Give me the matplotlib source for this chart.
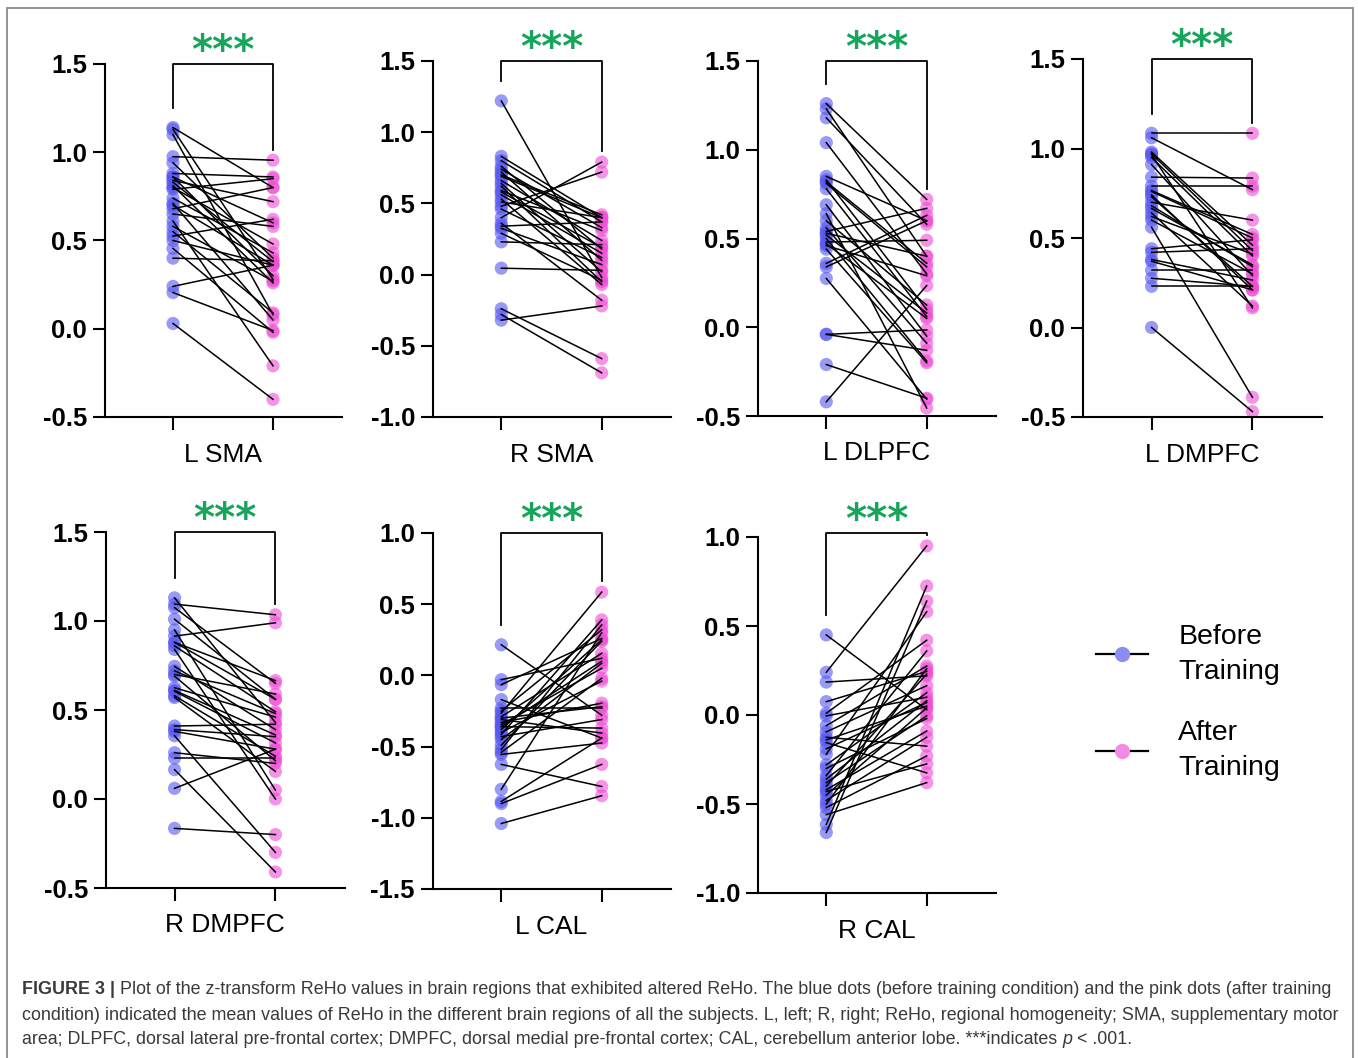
import matplotlib
matplotlib.use("Agg")
import matplotlib.pyplot as plt
from matplotlib.lines import Line2D
from matplotlib.patches import Rectangle
from matplotlib.ticker import FormatStrFormatter, MultipleLocator

plt.rcParams['font.family'] = ['Liberation Sans', 'DejaVu Sans']

# z-transformed ReHo values, one pair per subject (before, after training)
before_l_sma = [1.14, 1.13, 1.10, 0.975, 0.94, 0.88, 0.86, 0.84, 0.83, 0.81, 0.80, 0.79, 0.71, 0.68,
                0.65, 0.61, 0.55, 0.525, 0.50, 0.455, 0.40, 0.24, 0.205, 0.03, 0.74, 0.58, 0.86, 0.70]
after_l_sma = [0.80, 0.28, 0.08, 0.955, 0.40, 0.86, 0.60, 0.72, 0.38, 0.26, 0.48, 0.85, 0.05, 0.80,
               0.58, -0.21, 0.09, 0.62, 0.36, -0.02, 0.385, 0.36, -0.01, -0.40, 0.43, 0.27, 0.30, 0.36]

before_r_sma = [1.22, 0.83, 0.80, 0.76, 0.72, 0.69, 0.66, 0.64, 0.62, 0.59, 0.56, 0.53, 0.51, 0.48,
                0.46, 0.40, 0.36, 0.34, 0.325, 0.29, 0.23, 0.045, -0.24, -0.28, -0.32, 0.70, 0.74, 0.58]
after_r_sma = [-0.02, 0.40, 0.37, 0.18, 0.10, 0.40, 0.24, 0.02, -0.05, 0.31, 0.15, -0.07, 0.40, 0.72,
               0.12, 0.79, -0.18, 0.37, 0.07, -0.04, 0.21, 0.03, -0.59, -0.69, -0.22, 0.42, 0.33, 0.19]

before_l_dlpfc = [1.26, 1.23, 1.18, 1.04, 0.85, 0.83, 0.81, 0.78, 0.69, 0.64, 0.60, 0.56, 0.53, 0.50,
                  0.48, 0.44, 0.36, 0.34, 0.275, -0.04, -0.04, -0.21, -0.42, 0.82, 0.52, 0.47, 0.54, 0.46]
after_l_dlpfc = [0.72, 0.40, 0.58, 0.30, 0.60, 0.10, 0.34, 0.06, -0.05, -0.455, 0.125, -0.09, 0.40, -0.19,
                 0.49, -0.20, 0.63, 0.60, -0.405, -0.015, -0.13, -0.40, 0.235, 0.36, 0.08, 0.05, 0.67, 0.29]

before_l_dmpfc = [1.085, 1.06, 0.98, 0.965, 0.95, 0.91, 0.84, 0.79, 0.765, 0.73, 0.70, 0.665, 0.64, 0.60,
                  0.56, 0.44, 0.42, 0.38, 0.32, 0.275, 0.23, 0.0, 0.97, 0.74, 0.68, 0.76, 0.37, 0.62]
after_l_dmpfc = [1.085, 0.77, 0.46, 0.11, 0.40, 0.29, 0.835, 0.79, 0.52, 0.23, 0.60, 0.35, 0.12, 0.30,
                 -0.39, 0.49, 0.44, 0.265, 0.32, 0.23, 0.23, -0.47, 0.43, 0.21, 0.34, 0.50, 0.21, 0.41]

before_r_dmpfc = [1.13, 1.095, 1.075, 1.01, 0.95, 0.915, 0.88, 0.86, 0.84, 0.745, 0.70, 0.69, 0.625, 0.605,
                  0.58, 0.57, 0.41, 0.38, 0.355, 0.26, 0.23, 0.165, 0.06, -0.165, 0.61, 0.72, 0.39, 0.88]
after_r_dmpfc = [0.43, 1.035, 0.65, 0.56, 0.05, 0.99, 0.665, 0.49, 0.00, 0.39, 0.59, 0.215, 0.46, 0.315,
                 0.24, 0.155, 0.42, 0.28, -0.30, 0.20, 0.23, -0.41, 0.28, -0.20, 0.36, 0.48, 0.35, 0.56]

before_l_cal = [0.215, -0.03, -0.065, -0.17, -0.23, -0.25, -0.265, -0.29, -0.31, -0.33, -0.345, -0.36, -0.38, -0.40,
                -0.415, -0.43, -0.45, -0.52, -0.555, -0.625, -0.80, -0.885, -0.90, -1.04, -0.54, -0.36, -0.30, -0.49]
after_l_cal = [-0.28, 0.12, 0.26, -0.44, -0.23, 0.32, 0.585, 0.155, -0.405, -0.195, 0.05, -0.37, 0.25, -0.04,
               0.39, -0.31, 0.085, 0.355, -0.475, -0.78, 0.30, -0.44, -0.625, -0.845, -0.02, 0.10, -0.22, 0.24]

before_r_cal = [0.45, 0.24, 0.185, 0.075, 0.01, -0.005, -0.06, -0.095, -0.125, -0.155, -0.19, -0.22, -0.28, -0.34,
                -0.38, -0.40, -0.42, -0.45, -0.48, -0.52, -0.56, -0.615, -0.66, -0.43, -0.50, -0.36, -0.14, -0.30]
after_r_cal = [0.03, 0.95, 0.22, 0.245, 0.42, 0.10, 0.275, 0.165, -0.175, -0.325, 0.07, 0.58, 0.125, 0.36,
               -0.005, 0.23, -0.09, 0.04, -0.125, -0.23, -0.38, 0.725, 0.64, -0.275, 0.26, 0.08, 0.05, -0.02]

region_names = ['L SMA', 'R SMA', 'L DLPFC', 'L DMPFC', 'R DMPFC', 'L CAL', 'R CAL']
before_all = [before_l_sma, before_r_sma, before_l_dlpfc, before_l_dmpfc, before_r_dmpfc, before_l_cal, before_r_cal]
after_all = [after_l_sma, after_r_sma, after_l_dlpfc, after_l_dmpfc, after_r_dmpfc, after_l_cal, after_r_cal]
y_ranges = [(-0.5, 1.5), (-1.0, 1.5), (-0.5, 1.5), (-0.5, 1.5), (-0.5, 1.5), (-1.5, 1.0), (-1.0, 1.0)]
legend_labels = ['Before\nTraining', 'After\nTraining']

W, H = 1358, 1058
# axes boxes in pixels: left, right, top, bottom
boxes = [(105, 342, 64, 417), (433, 671, 61, 417), (758, 996, 61, 416), (1083, 1322, 59, 417),
         (106, 345, 532, 888), (433, 671, 533, 889), (758, 996, 537, 893)]

blue = '#5656f0'
pink = '#f04cd6'
green = '#16a55b'

fig = plt.figure(figsize=(W / 100, H / 100), dpi=100)

for i, name in enumerate(region_names):
    l, r, t, b = boxes[i]
    ax = fig.add_axes([l / W, 1 - b / H, (r - l) / W, (b - t) / H])
    bef = before_all[i]
    aft = after_all[i]
    ax.scatter([0] * len(bef), bef, s=90, color=blue, alpha=0.6, edgecolors='none', zorder=2)
    ax.scatter([1] * len(aft), aft, s=90, color=pink, alpha=0.6, edgecolors='none', zorder=2)
    for b0, a0 in zip(bef, aft):
        ax.plot([0, 1], [b0, a0], color='black', lw=1.1, zorder=3)

    ymin, ymax = y_ranges[i]
    ax.set_ylim(ymin, ymax)
    ax.set_xlim(-0.68, 1.69)
    ax.yaxis.set_major_locator(MultipleLocator(0.5))
    ax.yaxis.set_major_formatter(FormatStrFormatter('%.1f'))
    ax.set_xticks([0, 1])
    ax.set_xticklabels(['', ''])
    for side in ['top', 'right']:
        ax.spines[side].set_visible(False)
    for side in ['left', 'bottom']:
        ax.spines[side].set_linewidth(1.5)
    ax.tick_params(axis='both', length=9, width=1.5, direction='out')
    ax.tick_params(axis='y', labelsize=18.5, pad=4)
    for lab in ax.get_yticklabels():
        lab.set_fontweight('bold')
    ax.annotate(name, xy=(0.5, 0), xycoords=('data', 'axes fraction'), xytext=(0, -27),
                textcoords='offset points', ha='center', va='center', fontsize=19)

    # significance bracket
    span = ymax - ymin
    top = ymax + (0.01 * span if i == 6 else 0)
    left_end = max(bef) + 0.055 * span
    right_end = max(aft) + 0.03 * span
    ax.plot([0, 0, 1, 1], [left_end, top, top, right_end], color='black', lw=1.3,
            clip_on=False, zorder=4)
    ax.annotate('***', xy=(0.5, top), xycoords='data', xytext=(0, 1),
                textcoords='offset points', ha='center', va='baseline', fontsize=29,
                fontweight='bold', color=green, family='DejaVu Sans', annotation_clip=False)

handles = [Line2D([], [], color='black', lw=1.6, marker='o', markersize=11,
                  markerfacecolor=c, markeredgecolor='none')
           for c in ['#8c8cf2', '#f28ce2']]
leg = fig.legend(handles, legend_labels, loc='upper left', bbox_to_anchor=(1070 / W, 1 - 598 / H),
                 frameon=False, fontsize=20.5, handlelength=1.85, handletextpad=1.05, labelspacing=1.25)
for t in leg.get_texts():
    t.set_linespacing(1.45)

# frame around the figure
fig.patches.append(Rectangle((7 / W, -0.01), (1353 - 7) / W, 1 - 8 / H + 0.01,
                             transform=fig.transFigure, fill=False, edgecolor='#8a8a8a', lw=1.3))

# caption
renderer = fig.canvas.get_renderer()
cap_color = '#3a3a3a'
cap_size = 12.9


def write_line(y_px, segments):
    x = 22 / W
    probe1 = fig.text(0, 0, 'x x', fontsize=cap_size)
    probe2 = fig.text(0, 0, 'xx', fontsize=cap_size)
    space = (probe1.get_window_extent(renderer).width - probe2.get_window_extent(renderer).width) / W
    probe1.remove()
    probe2.remove()
    for txt, kw, gap in segments:
        t = fig.text(x, 1 - y_px / H, txt, fontsize=cap_size, color=cap_color, va='center', **kw)
        x = t.get_window_extent(renderer).x1 / W + (space if gap else 0)


write_line(990, [('FIGURE 3 |', {'fontweight': 'bold'}, True),
                 ('Plot of the z-transform ReHo values in brain regions that exhibited altered ReHo. '
                  'The blue dots (before training condition) and the pink dots (after training', {}, False)])
write_line(1015, [('condition) indicated the mean values of ReHo in the different brain regions of all the '
                   'subjects. L, left; R, right; ReHo, regional homogeneity; SMA, supplementary motor', {}, False)])
write_line(1040, [('area; DLPFC, dorsal lateral pre-frontal cortex; DMPFC, dorsal medial pre-frontal cortex; '
                   'CAL, cerebellum anterior lobe. ***indicates', {}, True),
                  ('p', {'fontstyle': 'italic'}, True),
                  ('< .001.', {}, False)])

fig.savefig('out.png', dpi=100)
